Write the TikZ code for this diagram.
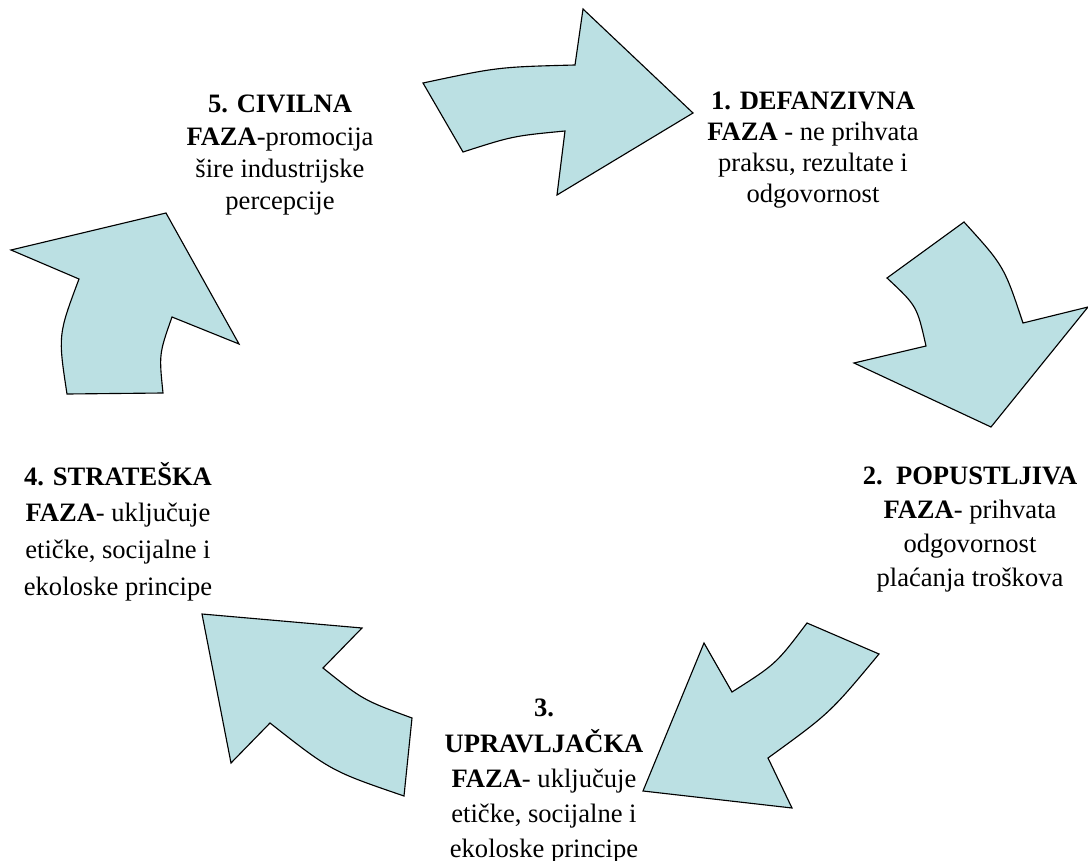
\documentclass[tikz,border=0pt]{standalone}
\usepackage{fontspec}
\setmainfont{LiberationSerif}[Extension=.ttf, UprightFont=*-Regular, BoldFont=*-Bold, ItalicFont=*-Italic, BoldItalicFont=*-BoldItalic]
\definecolor{strelica}{RGB}{187,224,227}
\tikzset{
  strelicaoblik/.style={draw=black, line width=0.8pt, fill=strelica, line join=miter},
  faza/.style={align=center, inner sep=0pt, anchor=north, font=\fontsize{18.9}{#1}\selectfont},
  faza/.default=22pt
}
\begin{document}
\begin{tikzpicture}[x=0.025cm, y=-0.025cm]
    \useasboundingbox (0,0) rectangle (1088,861);

    % Strelica 5 -> 1 (gore)
    \draw[strelicaoblik] (423,83) -- (463,152) .. controls (513,136) .. (565,131)
        -- (557,195) -- (693,113) -- (583,9) -- (575,65) .. controls (498,67) .. cycle;

    % Strelica 1 -> 2 (desno)
    \draw[strelicaoblik] (887,278) -- (964,222) .. controls (1004,266) .. (1023,323)
        -- (1088,307) -- (991,427) -- (854,363) -- (926,346) .. controls (917,306) .. cycle;

    % Strelica 2 -> 3 (dolje desno)
    \draw[strelicaoblik] (807,623) -- (879,654) .. controls (830,713) .. (768,758)
        -- (792,808) -- (643,791) -- (704,643) -- (732,692) .. controls (776,664) .. cycle;

    % Strelica 3 -> 4 (dolje lijevo)
    \draw[strelicaoblik] (412,718) -- (404,796) .. controls (331,771) .. (270,723)
        -- (231,763) -- (202,614) -- (362,628) -- (323,668) .. controls (363,700) .. cycle;

    % Strelica 4 -> 5 (lijevo)
    \draw[strelicaoblik] (67,394) -- (163,393) .. controls (159,354) .. (172,317)
        -- (239,344) -- (166,213) -- (11,250) -- (79,279) .. controls (58,335) .. cycle;

    % Faze
    \node[faza] (f1) at (813,92) {\textbf{1. DEFANZIVNA}\\\textbf{FAZA} - ne prihvata\\praksu, rezultate i\\odgovornost};
    \node[faza=24pt] (f2) at (970,467) {\textbf{2.~~POPUSTLJIVA}\\\textbf{FAZA}- prihvata\\odgovornost\\plaćanja troškova};
    \node[faza=25pt] (f3) at (544,699) {\textbf{3.}\\\textbf{UPRAVLJAČKA}\\\textbf{FAZA}- uključuje\\etičke, socijalne i\\ekoloske principe};
    \node[faza=26pt] (f4) at (118,462) {\textbf{4. STRATEŠKA}\\\textbf{FAZA}- uključuje\\etičke, socijalne i\\ekoloske principe};
    \node[faza=23pt] (f5) at (280,95) {\textbf{5. CIVILNA}\\\textbf{FAZA}-promocija\\šire industrijske\\percepcije};
\end{tikzpicture}
\end{document}
